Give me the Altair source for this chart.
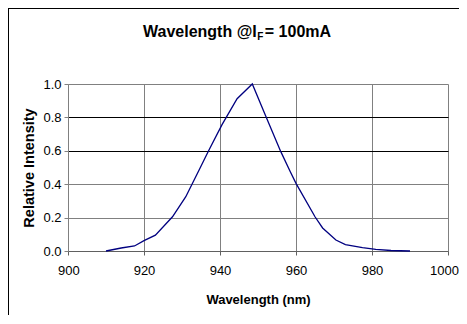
import altair as alt
import pandas as pd

# ---- data ----
wavelength_nm = [910, 914, 917.5, 920, 923, 927.5, 931, 934.5, 937, 940.5, 944.5,
                 948.5, 952, 956, 958.5, 960, 965, 967, 970.5, 973, 977.5, 981, 985, 990]
relative_intensity = [0.0, 0.018, 0.03, 0.062, 0.095, 0.205, 0.325, 0.485, 0.6, 0.755, 0.912,
                      1.0, 0.81, 0.595, 0.475, 0.405, 0.205, 0.138, 0.066, 0.038, 0.02, 0.01, 0.003, 0.0]
x_ticks = [900, 920, 940, 960, 980, 1000]
y_ticks = [0.0, 0.2, 0.4, 0.6, 0.8, 1.0]
title_main = "Wavelength @I"
title_sub = "F"
title_rest = "\u00a0= 100mA"
x_title = "Wavelength (nm)"
y_title = "Relative Intensity"

# ---- layout / style ----
FONT = "Liberation Sans"
W, H = 380, 167
PAD = {"left": 60, "top": 76, "right": 11, "bottom": 64}

df = pd.DataFrame({"nm": wavelength_nm, "ri": relative_intensity})
dummy = alt.Data(values=[{"k": 1}])

grid_cond = {"condition": {"test": "datum.value == 0.6 || datum.value == 0.8", "value": "#000000"},
             "value": "#808080"}

line = alt.Chart(df).mark_line(color="#000080", strokeWidth=1.3).encode(
    x=alt.X("nm:Q",
            scale=alt.Scale(domain=[900, 1000], nice=False, zero=False),
            axis=alt.Axis(values=x_ticks, format="d", title=x_title, grid=True,
                          gridColor="#808080", gridWidth=1,
                          domainColor="#606060", tickColor="#606060", tickSize=4,
                          labelFont=FONT, labelFontSize=13, labelColor="black",
                          labelPadding=9, labelFlush=True, labelFlushOffset=10.5,
                          labelOverlap=False,
                          titleFont=FONT, titleFontSize=13, titleFontWeight="bold",
                          titleColor="black", titleBaseline="alphabetic", titleY=52.5)),
    y=alt.Y("ri:Q",
            scale=alt.Scale(domain=[0, 1], nice=False),
            axis=alt.Axis(values=y_ticks, format=".1f", title=y_title, grid=True,
                          gridColor=grid_cond, gridWidth=1,
                          domainColor="#808080", tickColor="#808080", tickSize=4,
                          labelFont=FONT, labelFontSize=13, labelColor="black",
                          labelPadding=3, labelOverlap=False,
                          titleFont=FONT, titleFontSize=14.5, titleFontWeight="bold",
                          titleColor="black", titleAngle=270, titleAlign="center",
                          titleBaseline="alphabetic", titleX=-34.5, titleY=83.5)),
)

frame_top = alt.Chart(dummy).mark_rule(color="black", strokeWidth=1).encode(
    x=alt.value(-PAD["left"]), x2=alt.value(W + PAD["right"]), y=alt.value(-PAD["top"] + 0.5))
frame_left = alt.Chart(dummy).mark_rule(color="black", strokeWidth=1).encode(
    x=alt.value(-PAD["left"] + 0.5), y=alt.value(-PAD["top"]), y2=alt.value(H + PAD["bottom"]))

t_x0 = 75
t_base = -47.5
t1 = alt.Chart(dummy).mark_text(text=title_main, align="left", baseline="alphabetic", font=FONT,
                                fontSize=16, fontWeight="bold", color="black").encode(
    x=alt.value(t_x0), y=alt.value(t_base))
t2 = alt.Chart(dummy).mark_text(text=title_sub, align="left", baseline="alphabetic", font=FONT,
                                fontSize=10, fontWeight="bold", color="black").encode(
    x=alt.value(t_x0 + 114.3), y=alt.value(t_base + 3))
t3 = alt.Chart(dummy).mark_text(text=title_rest, align="left", baseline="alphabetic", font=FONT,
                                fontSize=16, fontWeight="bold", color="black").encode(
    x=alt.value(t_x0 + 114.3 + 7.5), y=alt.value(t_base))

chart = alt.layer(line, frame_top, frame_left, t1, t2, t3).properties(
    width=W, height=H, padding=PAD, autosize=alt.AutoSizeParams(type="none"),
    background="white",
).configure_view(stroke="transparent")

chart.save("out.html", embed_options={"renderer": "svg", "actions": False})
